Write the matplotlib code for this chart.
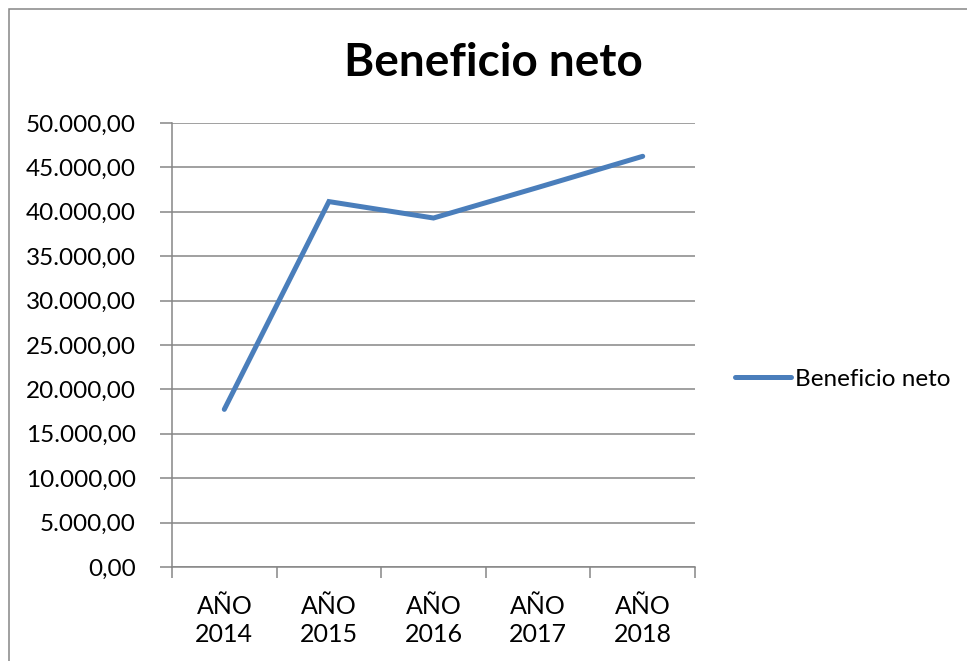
import matplotlib
matplotlib.use("Agg")
import matplotlib.pyplot as plt
from matplotlib.ticker import FuncFormatter, FixedLocator
from matplotlib.patches import Rectangle

categories = ["AÑO\n2014", "AÑO\n2015", "AÑO\n2016", "AÑO\n2017", "AÑO\n2018"]
beneficio_neto = [17750, 41150, 39300, 42750, 46250]
series_name = "Beneficio neto"
title = "Beneficio neto"
y_ticks = [0, 5000, 10000, 15000, 20000, 25000, 30000, 35000, 40000, 45000, 50000]

plt.rcParams['font.family'] = ['Lato', 'DejaVu Sans']

W, H = 967, 661
fig = plt.figure(figsize=(W / 100, H / 100), dpi=100)
gray = "#868686"
blue = "#4A7EBB"

# chart border
fig.patches.append(Rectangle((9 / W, -0.05), 1.2, 1 - 9 / H + 0.05, transform=fig.transFigure,
                             fill=False, edgecolor=gray, linewidth=1.1))

ax = fig.add_axes([172 / W, 1 - 567 / H, (695 - 172) / W, (567 - 123) / H])
x = list(range(len(categories)))
ax.plot(x, beneficio_neto, color=blue, linewidth=3.6, solid_capstyle='round',
        solid_joinstyle='miter', label=series_name, zorder=3)

ax.set_xlim(-0.5, len(categories) - 0.5)
ax.set_ylim(0, 50000)
ax.yaxis.set_major_locator(FixedLocator(y_ticks))

def fmt(v, pos):
    s = f"{v:,.2f}"
    return s.replace(",", "X").replace(".", ",").replace("X", ".")

ax.yaxis.set_major_formatter(FuncFormatter(fmt))
ax.set_xticks(x)
ax.set_xticklabels(categories, linespacing=1.3)
ax.set_xticks([i - 0.5 for i in range(len(categories) + 1)], minor=True)
ax.tick_params(axis='x', which='major', length=0, pad=20, labelsize=18)
ax.tick_params(axis='x', which='minor', length=8, width=1.1, color=gray, direction='out')
ax.tick_params(axis='y', which='major', length=9, width=1.1, color=gray, direction='out',
               pad=17, labelsize=17.5)

ax.grid(axis='y', color=gray, linewidth=1.1, zorder=1)
for s in ['top', 'right']:
    ax.spines[s].set_visible(False)
for s in ['left', 'bottom']:
    ax.spines[s].set_color(gray)
    ax.spines[s].set_linewidth(1.1)

fig.text(493 / W, 1 - 63 / H, title, ha='center', va='center', fontsize=33, fontweight='bold')

leg = fig.legend(loc='center left', bbox_to_anchor=(735 / W, 1 - 379 / H), frameon=False,
                 fontsize=17.5, handlelength=2.3, handletextpad=0.15, borderpad=0, borderaxespad=0)

fig.savefig("out.png", dpi=100)
